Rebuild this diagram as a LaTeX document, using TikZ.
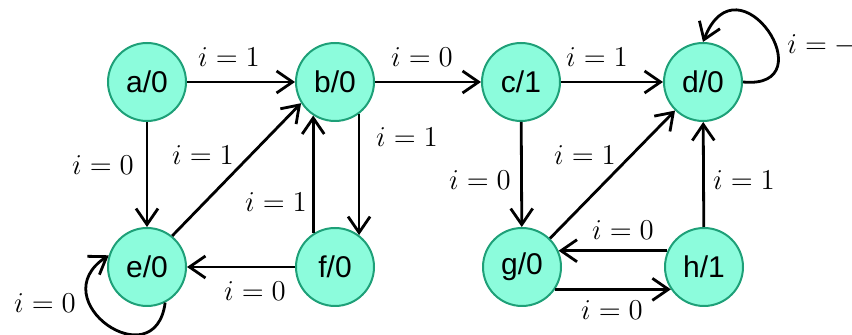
\documentclass[tikz,border=0pt]{standalone}
\usepackage{fontspec}
\setsansfont{Liberation Sans}
\usetikzlibrary{arrows.meta}
\definecolor{stfill}{RGB}{140,252,220}
\definecolor{stdraw}{RGB}{30,160,120}
\begin{document}
\begin{tikzpicture}[x=0.5pt,y=-0.5pt,
  state/.style={circle,draw=stdraw,fill=stfill,line width=1pt,minimum size=39pt,inner sep=0pt,
    font=\sffamily\fontsize{15}{16}\selectfont},
  trans/.style={line width=1.4pt,-{Straight Barb[length=8pt,width=11pt,line width=1.4pt]}},
  lab/.style={inner sep=0pt,font=\fontsize{14}{16}\selectfont}]
\useasboundingbox (0,0) rectangle (852,335);
% states
\node[state] (a) at (147,82) {a/0};
\node[state] (b) at (335,82) {b/0};
\node[state] (c) at (521,82) {c/1};
\node[state] (d) at (703,82) {d/0};
\node[state] (e) at (147,267) {e/0};
\node[state] (f) at (335,267) {f/0};
\node[state] (g) at (522,267) {g/0};
\node[state] (h) at (704,267) {h/1};
% transitions
\draw[trans] (a) -- (b);
\draw[trans] (b) -- (c);
\draw[trans] (c) -- (d);
\draw[trans] (a) -- (e);
\draw[trans] (e.51) -- (b.212);
\draw[trans] (b.-53) -- (f.53);
\draw[trans] (f.123) -- (b.-123);
\draw[trans] (f) -- (e);
\draw[trans] (c) -- (g);
\draw[trans] (g) -- (d);
\draw[trans] (h.156) -- (g.24);
\draw[trans] (g.-34) -- (h.-146);
\draw[trans] (h) -- (d);
\draw[trans] (d.east) .. controls +(85,8) and +(35,-90) .. (d.north);
\draw[trans] (e.-63) .. controls +(-10,77) and +(-68,45) .. (e.163);
% labels
\node[lab] (l1) at (229,57) {$i=1$};
\node[lab] (l2) at (422,57) {$i=0$};
\node[lab] (l3) at (597,57) {$i=1$};
\node[lab,anchor=west] (l4) at (787,45) {$i=-$};
\node[lab] (l5) at (103,165) {$i=0$};
\node[lab] (l6) at (203,155) {$i=1$};
\node[lab] (l7) at (407,137) {$i=1$};
\node[lab] (l8) at (276,202) {$i=1$};
\node[lab] (l9) at (255,291) {$i=0$};
\node[lab] (l10) at (45,303) {$i=0$};
\node[lab] (l11) at (480,180) {$i=0$};
\node[lab] (l12) at (585,155) {$i=1$};
\node[lab] (l13) at (744,180) {$i=1$};
\node[lab] (l14) at (623,230) {$i=0$};
\node[lab] (l15) at (612,310) {$i=0$};
\end{tikzpicture}
\end{document}
